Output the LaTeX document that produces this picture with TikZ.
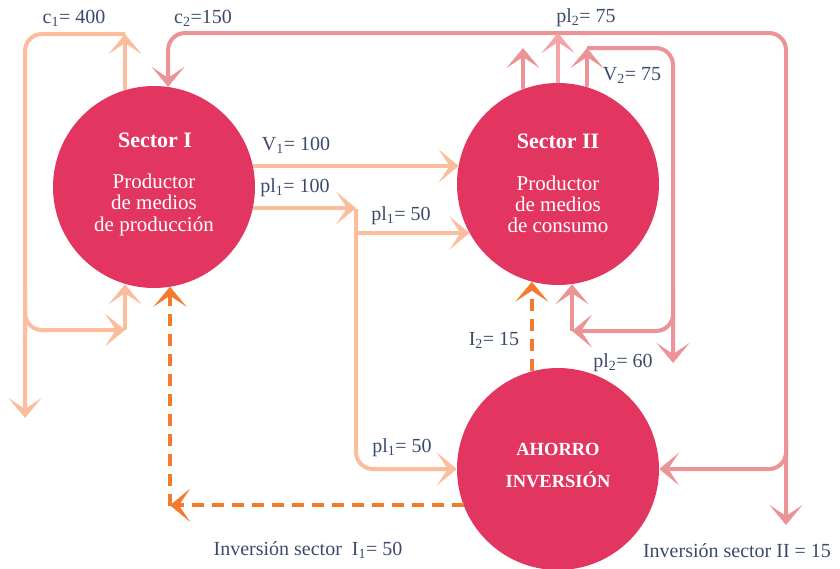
\documentclass[tikz,border=0pt]{standalone}
\usepackage{fontspec}
\setmainfont{Liberation Serif}
\usetikzlibrary{arrows.meta}
\definecolor{peach}{HTML}{FBBD9C}
\definecolor{pinkA}{HTML}{EC9397}
\definecolor{pinkB}{HTML}{F4A3A9}
\definecolor{orng}{HTML}{F47A2E}
\definecolor{crim}{HTML}{E23660}
\definecolor{txt}{HTML}{3B4A6C}
\begin{document}
\begin{tikzpicture}[x=1pt,y=-1pt,
  >={Stealth[length=20pt,width=33pt,inset=11pt]},
  flow/.style={line width=4pt,->},
  rc/.style={rounded corners=17pt},
  dflow/.style={line width=4pt,dash pattern=on 12pt off 8pt,->},
  circ/.style={circle,fill=crim,minimum size=202pt,inner sep=0pt},
  lab/.style={text=txt,font=\fontsize{20}{22}\selectfont,anchor=base,inner sep=0pt},
  ctext/.style={text=white,font=\fontsize{21}{24}\selectfont,anchor=base,inner sep=0pt},
  ctitle/.style={text=white,font=\bfseries\fontsize{22}{24}\selectfont,anchor=base,inner sep=0pt}
]
\useasboundingbox (0,0) rectangle (840,568);
% circles
\node[circ] (s1) at (154,187) {};
\node[circ] (s2) at (558,184) {};
\node[circ] (s3) at (558,469) {};
% circle texts
\node[ctitle] (s1t) at (155,147) {Sector I};
\node[ctext] (s1a) at (154,188) {Productor};
\node[ctext] (s1b) at (154,209.5) {de medios};
\node[ctext] (s1c) at (154,231) {de producción};
\node[ctitle] (s2t) at (558,148) {Sector II};
\node[ctext] (s2a) at (558,190) {Productor};
\node[ctext] (s2b) at (558,211) {de medios};
\node[ctext] (s2c) at (558,232) {de consumo};
\node[ctitle,font=\bfseries\fontsize{18.5}{20}\selectfont] (s3a) at (558,455) {AHORRO};
\node[ctitle,font=\bfseries\fontsize{18.5}{20}\selectfont] (s3b) at (558,487) {INVERSIÓN};
% junction coordinates
\coordinate (c1top) at (125,34);
\coordinate (c1bot) at (25,418);
\coordinate (c1jn) at (125,330);
\coordinate (c2top) at (558,33);
\coordinate (c2end) at (786,525);
\coordinate (s2ltop) at (523,48);
\coordinate (v2top) at (587,48);
\coordinate (v2end) at (673,363);
\coordinate (p60jn) at (572,331);
\coordinate (p1jn) at (356,209);
\coordinate (dcorner) at (170,506);
% c1 loop (peach)
\draw[flow,peach] (c1top |- s1.106.7) -- (c1top);
\draw[flow,peach,rc] (c1top) -| (c1bot);
\draw[flow,peach,rc] (c1bot |- 0,290) |- (c1jn);
\draw[flow,peach] (c1jn) -- (c1jn |- s1.-106.7);
% c2 loop (pink)
\draw[flow,pinkA,rc] (c2top) -| (s1.82);
\draw[flow,pinkA,rc] (c2top) -| (c2end);
\draw[flow,pinkA,rc] (c2end |- 0,440) |- (s3.east);
% Sector II top arrows
\draw[flow,pinkA] (s2ltop |- s2.110.3) -- (s2ltop);
\draw[flow,pinkB] (s2.north) -- (c2top);
\draw[flow,pinkA] (v2top |- s2.73.3) -- (v2top);
\draw[flow,pinkA,rc] (v2top) -| (v2end);
\draw[flow,pinkA,rc] (v2end |- 0,290) |- (p60jn);
\draw[flow,pinkA] (p60jn) -- (p60jn |- s2.-82);
% V1 and pl1
\draw[flow,peach] (s1.12.6) -- (s1.12.6 -| s2.169.2);
\draw[flow,peach] (s1.-12.6) -- (s1.-12.6 -| p1jn);
\draw[flow,peach,rc] (p1jn) |- (s3.west);
\draw[flow,peach] (p1jn |- s2.209) -- (s2.209);
% investment (dashed)
\draw[dflow,orng] (s3.201.5) -- (s3.201.5 -| dcorner);
\draw[dflow,orng] (dcorner) -- (dcorner |- s1.-80.9);
\draw[dflow,orng] (s3.105.5) -- (s3.105.5 |- s2.-105.5);
% labels
\node[lab] (l1) at (74,23) {c\textsubscript{1}= 400};
\node[lab] (l2) at (203,23) {c\textsubscript{2}=150};
\node[lab] (l3) at (586,22) {pl\textsubscript{2}= 75};
\node[lab] (l4) at (632,80) {V\textsubscript{2}= 75};
\node[lab] (l5) at (296,150) {V\textsubscript{1}= 100};
\node[lab] (l6) at (295,192) {pl\textsubscript{1}= 100};
\node[lab] (l7) at (401,220) {pl\textsubscript{1}= 50};
\node[lab] (l8) at (402,452) {pl\textsubscript{1}= 50};
\node[lab] (l9) at (494,345) {I\textsubscript{2}= 15};
\node[lab] (l10) at (623,367) {pl\textsubscript{2}= 60};
\node[lab] (l11) at (308,555) {Inversión sector\ \ I\textsubscript{1}= 50};
\node[lab] (l12) at (737,557) {Inversión sector II = 15};
\end{tikzpicture}
\end{document}
